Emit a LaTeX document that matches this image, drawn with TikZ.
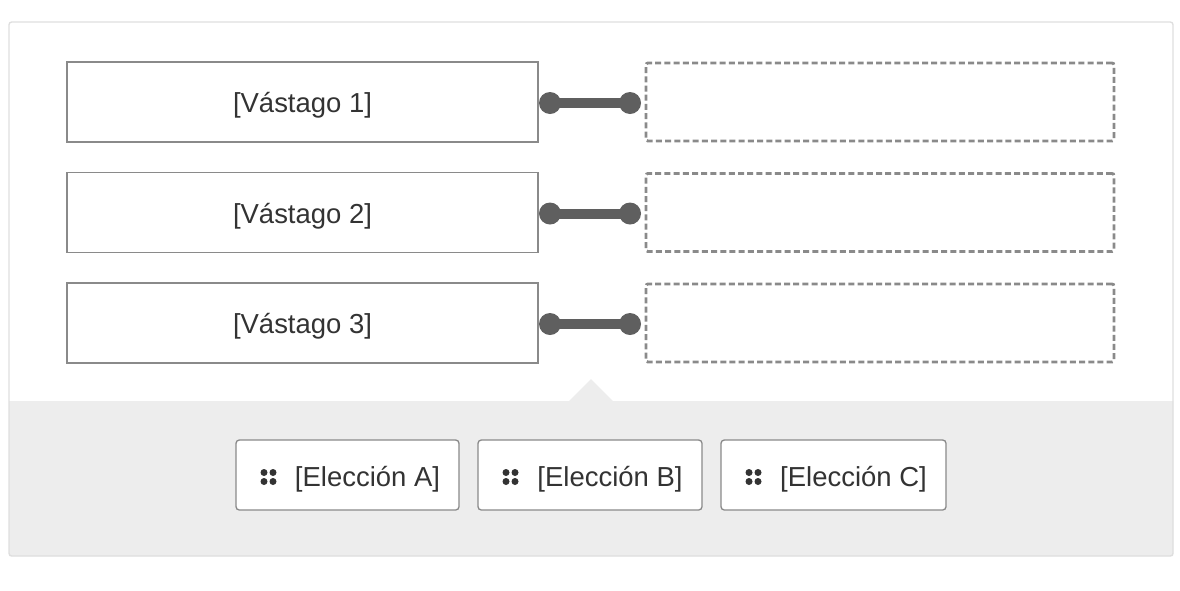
\documentclass[tikz,border=0pt]{standalone}
\usepackage{fontspec}
\setmainfont{Liberation Sans}
\usetikzlibrary{positioning}

\definecolor{framegray}{HTML}{DEDEDE}
\definecolor{traygray}{HTML}{EDEDED}
\definecolor{boxgray}{HTML}{8A8A8A}
\definecolor{linkgray}{HTML}{5F5F5F}
\definecolor{textgray}{HTML}{333333}

\tikzset{
  stem/.style={draw=boxgray, line width=1.1pt, fill=white, minimum width=353.25pt, minimum height=60pt, inner sep=0pt, text=textgray, text height=20.5pt, text depth=4.5pt, font=\fontsize{20.6}{24}\selectfont},
  slot/.style={draw=boxgray, line width=2.2pt, dash pattern=on 4.5pt off 2.4pt, rounded corners=1.5pt, minimum width=351pt, minimum height=58.5pt, inner sep=0pt},
  knob/.style={circle, fill=linkgray, minimum size=16.5pt, inner sep=0pt},
  choice/.style={draw=boxgray, line width=1pt, fill=white, rounded corners=2.5pt, minimum height=52.5pt, inner sep=0pt, text=textgray, text height=22pt, text depth=4.5pt, font=\fontsize{20.6}{24}\selectfont},
  grip/.style={circle, fill=textgray, minimum size=5.25pt, inner sep=0pt},
}

\begin{document}
\begin{tikzpicture}[x=0.75pt,y=-0.75pt]
\useasboundingbox (0,0) rectangle (1180,590);
% frame and tray
\fill[traygray] (9,401) -- (569,401) -- (591,379) -- (613,401) -- (1173,401) -- (1173,556) -- (9,556) -- cycle;
\draw[framegray, line width=1pt, rounded corners=2pt] (9,22) rectangle (1173,556);
% stems
\node[stem] (s1) at (302.5,102) {[Vástago 1]};
\node[stem] (s2) at (302.5,212.5) {[Vástago 2]};
\node[stem] (s3) at (302.5,323) {[Vástago 3]};
% drop slots
\node[slot] (t1) at (880,102) {};
\node[slot] (t2) at (880,212.5) {};
\node[slot] (t3) at (880,323) {};
% connectors
\node[knob] (k1a) at (550,103) {};
\node[knob] (k1b) at (630,103) {};
\node[knob] (k2a) at (550,213.5) {};
\node[knob] (k2b) at (630,213.5) {};
\node[knob] (k3a) at (550,324) {};
\node[knob] (k3b) at (630,324) {};
\draw[linkgray, line width=7.5pt] (k1a.center) -- (k1b.center);
\draw[linkgray, line width=7.5pt] (k2a.center) -- (k2b.center);
\draw[linkgray, line width=7.5pt] (k3a.center) -- (k3b.center);
% choices
\node[choice, minimum width=167.25pt] (cA) at (347.5,475) {\hspace*{30pt}[Elección A]};
\node[choice, minimum width=168pt] (cB) at (590,475) {\hspace*{30pt}[Elección B]};
\node[choice, minimum width=168.75pt] (cC) at (833.5,475) {\hspace*{30pt}[Elección C]};
% grips
\node[grip] at (264,472.5) {}; \node[grip] at (273,472.5) {};
\node[grip] at (264,481.5) {}; \node[grip] at (273,481.5) {};
\node[grip] at (506,472.5) {}; \node[grip] at (515,472.5) {};
\node[grip] at (506,481.5) {}; \node[grip] at (515,481.5) {};
\node[grip] at (749,472.5) {}; \node[grip] at (758,472.5) {};
\node[grip] at (749,481.5) {}; \node[grip] at (758,481.5) {};
\end{tikzpicture}
\end{document}
